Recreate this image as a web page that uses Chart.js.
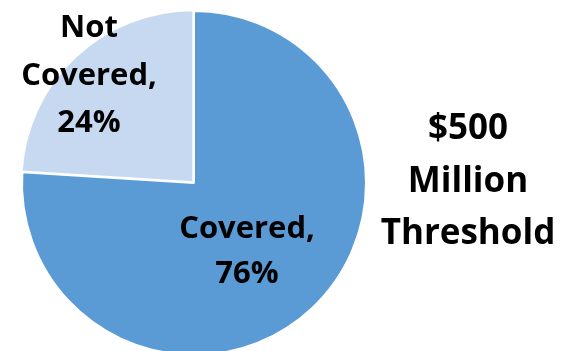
<!DOCTYPE html>
<html>
<head>
<meta charset="utf-8">
<script src="https://cdn.jsdelivr.net/npm/chart.js@4/dist/chart.umd.min.js"></script>
<style>
html,body{margin:0;padding:0;overflow:hidden;background:#fff;width:574px;height:351px;}
#wrap{position:absolute;left:0;top:0;width:574px;height:366px;}
</style>
</head>
<body>
<div id="wrap"><canvas id="c"></canvas></div>
<script>
const categories = ["Covered", "Not Covered"];
const shares = [76, 24];
const sliceColors = ["#5B9BD5", "#C6D9F0"];
const titleLines = ["$500", "Million", "Threshold"];

const labelPlugin = {
  id: 'labels',
  afterDatasetsDraw(chart) {
    const ctx = chart.ctx;
    ctx.save();
    ctx.fillStyle = '#000';
    ctx.textAlign = 'center';
    ctx.textBaseline = 'alphabetic';
    ctx.font = 'bold 31px "Open Sans"';
    // Label anchors (first baseline) per slice
    const anchors = [[247, 238, 45], [89, 37, 47.5]];
    categories.forEach((cat, i) => {
      const words = cat.split(' ');
      const lines = words.length > 1 ? [words[0], words.slice(1).join(' ') + ','] : [cat + ','];
      lines.push(shares[i] + '%');
      const [x, y, lh] = anchors[i];
      lines.forEach((ln, k) => ctx.fillText(ln, x, y + k * lh));
    });
    // Title on the right
    ctx.font = 'bold 35px "Open Sans"';
    titleLines.forEach((ln, k) => ctx.fillText(ln, 468, 139 + k * 52.5));
    ctx.restore();
  }
};

new Chart(document.getElementById('c'), {
  type: 'pie',
  data: {
    labels: categories,
    datasets: [{
      data: shares,
      backgroundColor: sliceColors,
      borderColor: '#ffffff',
      borderWidth: 2,
      offset: [0, 4]
    }]
  },
  options: {
    responsive: true,
    maintainAspectRatio: false,
    animation: false,
    radius: 172,
    layout: { padding: { left: 22, right: 208, top: 11, bottom: 11 } },
    plugins: { legend: { display: false }, tooltip: { enabled: false } }
  },
  plugins: [labelPlugin]
});
</script>
</body>
</html>
